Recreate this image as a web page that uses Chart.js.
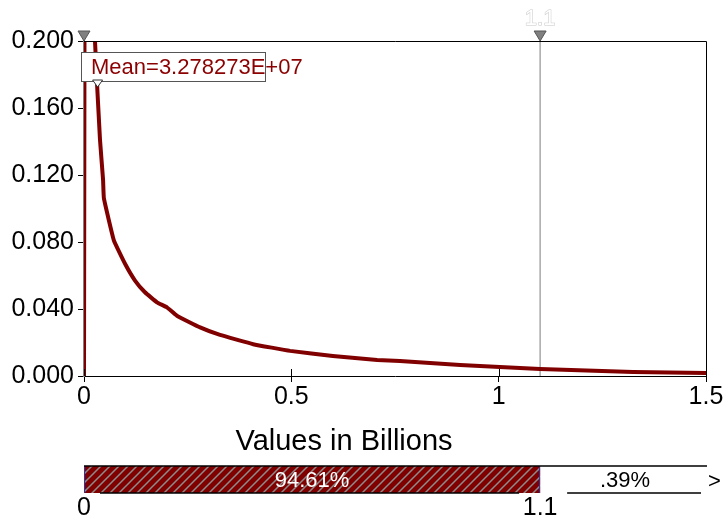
<!DOCTYPE html>
<html>
<head>
<meta charset="utf-8">
<script src="https://cdn.jsdelivr.net/npm/chart.js@4.4.0/dist/chart.umd.min.js"></script>
<style>
  html, body { margin: 0; padding: 0; background: #fff; }
  #wrap { width: 728px; height: 521px; }
</style>
</head>
<body>
<div id="wrap"><canvas id="distChart" width="728" height="521"></canvas></div>
<script>
// values in billions
const densityX = [0, 0.004, 0.0265, 0.0386, 0.046, 0.048, 0.072, 0.099, 0.123, 0.147, 0.176, 0.200, 0.224, 0.280, 0.328, 0.408, 0.497, 0.600, 0.707, 0.762, 0.907, 1.003, 1.100, 1.324, 1.500];
const densityY = [0, 0.500, 0.200, 0.141, 0.117, 0.106, 0.081, 0.067, 0.057, 0.050, 0.044, 0.041, 0.036, 0.029, 0.0245, 0.019, 0.015, 0.012, 0.0096, 0.0090, 0.0066, 0.0054, 0.0042, 0.0024, 0.0018];

const xTickValues = [0, 0.5, 1, 1.5];
const xTickLabels = ['0', '0.5', '1', '1.5'];
const yTickValues = [0, 0.04, 0.08, 0.12, 0.16, 0.2];
const yTickLabels = ['0.000', '0.040', '0.080', '0.120', '0.160', '0.200'];

const meanValue = 0.03278273;
const meanLabel = 'Mean=3.278273E+07';
const delimiters = [0, 1.1];
const delimiterLabels = ['0', '1.1'];
const bandPercents = ['94.61%', '.39%'];

const FONT = '"Liberation Sans", Arial, Helvetica, sans-serif';
const RED = '#800000';

function hatchPattern(ctx) {
    const c = document.createElement('canvas');
    c.width = 9; c.height = 9;
    const g = c.getContext('2d');
    g.fillStyle = RED;
    g.fillRect(0, 0, 9, 9);
    g.strokeStyle = '#8c8c8c';
    g.lineWidth = 1.5;
    g.beginPath();
    g.moveTo(0, 9); g.lineTo(9, 0);
    g.moveTo(-1, 1); g.lineTo(1, -1);
    g.moveTo(8, 10); g.lineTo(10, 8);
    g.stroke();
    return ctx.createPattern(c, 'repeat');
}

function tri(ctx, cx, tipY, w, h, fill, stroke) {
    ctx.beginPath();
    ctx.moveTo(cx - w / 2, tipY - h);
    ctx.lineTo(cx + w / 2, tipY - h);
    ctx.lineTo(cx, tipY);
    ctx.closePath();
    ctx.fillStyle = fill;
    ctx.fill();
    ctx.strokeStyle = stroke;
    ctx.lineWidth = 1;
    ctx.stroke();
}

const overlay = {
    id: 'overlay',
    beforeDatasetsDraw(chart) {
        const { ctx, chartArea: a, scales: { x } } = chart;
        const px = x.getPixelForValue(delimiters[1]);
        ctx.save();
        ctx.strokeStyle = '#a8a8a8';
        ctx.lineWidth = 1.5;
        ctx.beginPath();
        ctx.moveTo(px, a.top);
        ctx.lineTo(px, a.bottom);
        ctx.stroke();
        ctx.restore();
    },
    afterDraw(chart) {
        const { ctx, chartArea: a, scales: { x } } = chart;
        ctx.save();

        // frame top and right
        ctx.strokeStyle = '#000';
        ctx.lineWidth = 1;
        ctx.beginPath();
        ctx.moveTo(a.left, a.top + 0.5);
        ctx.lineTo(a.right + 0.5, a.top + 0.5);
        ctx.lineTo(a.right + 0.5, a.bottom);
        ctx.stroke();

        // x ticks crossing into the plot
        ctx.beginPath();
        xTickValues.forEach(v => {
            const px = Math.round(x.getPixelForValue(v)) + 0.5;
            ctx.moveTo(px, a.bottom - 7);
            ctx.lineTo(px, a.bottom);
        });
        ctx.stroke();

        // mean box
        const bx = x.getPixelForValue(0) - 3, by = a.top + 11, bw = 184, bh = 29;
        ctx.fillStyle = '#fff';
        ctx.fillRect(bx, by, bw, bh);
        ctx.strokeStyle = '#555';
        ctx.strokeRect(bx + 0.5, by + 0.5, bw, bh);
        ctx.font = '22px ' + FONT;
        ctx.fillStyle = '#8b0000';
        ctx.textAlign = 'left';
        ctx.textBaseline = 'middle';
        ctx.fillText(meanLabel, bx + 10, by + 16);
        tri(ctx, x.getPixelForValue(meanValue), by + bh + 6, 10, 7, '#fff', '#333');

        // delimiter markers on top
        delimiters.forEach(d => {
            tri(ctx, x.getPixelForValue(d), a.top, 12, 10, '#808080', '#555');
        });
        ctx.font = '22px ' + FONT;
        ctx.textAlign = 'center';
        ctx.fillStyle = '#fff';
        ctx.strokeStyle = '#c8c8c8';
        ctx.lineWidth = 1;
        const tx = x.getPixelForValue(delimiters[1]);
        ctx.strokeText(delimiterLabels[1], tx, 19);
        ctx.fillText(delimiterLabels[1], tx, 19);

        // axis title
        ctx.fillStyle = '#000';
        ctx.font = '29px ' + FONT;
        ctx.fillText('Values in Billions', 344, 442);

        // bottom band
        const x0 = x.getPixelForValue(delimiters[0]);
        const x1 = x.getPixelForValue(delimiters[1]);
        const bt = 466, bb = 493;
        ctx.fillStyle = hatchPattern(ctx);
        ctx.fillRect(x0, bt, x1 - x0, bb - bt);
        ctx.strokeStyle = '#3030a0';
        ctx.beginPath();
        ctx.moveTo(x0 + 0.5, bt); ctx.lineTo(x0 + 0.5, bb);
        ctx.moveTo(x1 - 0.5, bt); ctx.lineTo(x1 - 0.5, bb);
        ctx.stroke();
        ctx.strokeStyle = '#000';
        ctx.lineWidth = 1.5;
        ctx.beginPath();
        ctx.moveTo(x0, bt); ctx.lineTo(a.right + 1, bt);
        ctx.moveTo(x0 + 16, bb); ctx.lineTo(x1 - 21, bb);
        ctx.moveTo(x1 + 27, bb); ctx.lineTo(a.right - 5, bb);
        ctx.stroke();

        ctx.font = '22px ' + FONT;
        ctx.fillStyle = '#fff';
        ctx.fillText(bandPercents[0], (x0 + x1) / 2, 481);
        ctx.fillStyle = '#000';
        ctx.fillText(bandPercents[1], (x1 + a.right) / 2 + 2, 481);
        ctx.textAlign = 'left';
        ctx.fillText('>', a.right + 2, 482);

        ctx.textAlign = 'center';
        ctx.font = '25px ' + FONT;
        ctx.fillText(delimiterLabels[0], x0, 508);
        ctx.fillText(delimiterLabels[1], x1, 508);
        ctx.restore();
    }
};

function renderDistChart() {
    const ctx = document.getElementById('distChart');
    const points = densityX.map((v, i) => ({ x: v, y: densityY[i] }));

    new Chart(ctx, {
        type: 'scatter',
        data: {
            datasets: [{
                data: points,
                showLine: true,
                borderColor: RED,
                borderWidth: 4,
                pointRadius: 0,
                tension: 0.1
            }]
        },
        options: {
            responsive: false,
            animation: false,
            devicePixelRatio: 1,
            layout: { padding: { top: 41, right: 22, left: 0, bottom: 0 } },
            plugins: { legend: { display: false }, tooltip: { enabled: false } },
            scales: {
                x: {
                    type: 'linear',
                    min: 0,
                    max: 1.5,
                    afterBuildTicks: s => { s.ticks = xTickValues.map(v => ({ value: v })); },
                    afterFit: s => { s.height = 145; },
                    ticks: {
                        callback: (v, i) => xTickLabels[i],
                        font: { size: 25, family: FONT },
                        color: '#000',
                        padding: 0,
                        maxRotation: 0,
                        autoSkip: false
                    },
                    grid: { drawOnChartArea: false, tickLength: 6, color: '#000' },
                    border: { color: '#000', width: 1 }
                },
                y: {
                    min: 0,
                    max: 0.2,
                    afterBuildTicks: s => { s.ticks = yTickValues.map(v => ({ value: v })); },
                    afterFit: s => { s.width = 84; },
                    ticks: {
                        callback: (v, i) => yTickLabels[i],
                        font: { size: 25, family: FONT },
                        color: '#000',
                        padding: 4
                    },
                    grid: { drawOnChartArea: false, tickLength: 6, color: '#000' },
                    border: { color: '#808080', width: 2 }
                }
            }
        },
        plugins: [overlay]
    });
}

document.addEventListener('DOMContentLoaded', () => {
    renderDistChart();
});
</script>
</body>
</html>
